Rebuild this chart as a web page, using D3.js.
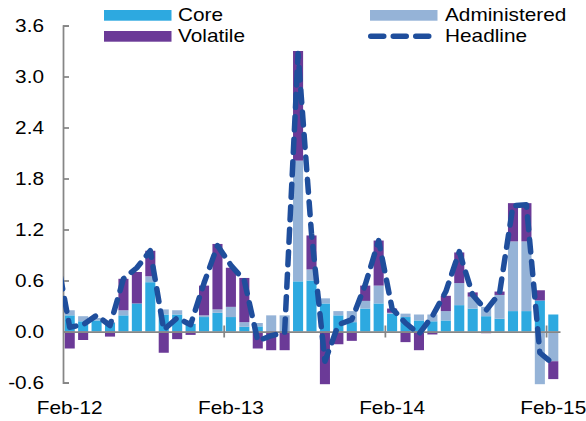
<!DOCTYPE html>
<html><head><meta charset="utf-8">
<script src="https://cdn.jsdelivr.net/npm/d3@7"></script>
<style>
body{margin:0;background:#fff}
svg{display:block}
text{font-family:"Liberation Sans",Arial,sans-serif;fill:#000}
</style>
</head><body>
<svg id="c" width="586" height="421"></svg>
<script>
const months = ["Feb-12","Mar-12","Apr-12","May-12","Jun-12","Jul-12","Aug-12","Sep-12","Oct-12","Nov-12","Dec-12","Jan-13",
  "Feb-13","Mar-13","Apr-13","May-13","Jun-13","Jul-13","Aug-13","Sep-13","Oct-13","Nov-13","Dec-13","Jan-14",
  "Feb-14","Mar-14","Apr-14","May-14","Jun-14","Jul-14","Aug-14","Sep-14","Oct-14","Nov-14","Dec-14","Jan-15","Feb-15"];
const core = [0.19,0.12,0.13,0.10,0.19,0.33,0.58,0.20,0.20,0.09,0.17,0.22,0.17,0.055,0.06,0,0,0.59,0.60,0.33,0.19,0.11,0.27,0.33,0.21,0.17,0.13,0.12,0.13,0.31,0.27,0.18,0.15,0.24,0.24,0.365,0.20];
const administered = [0.06,0.06,0.03,0.01,0.06,0,0.07,0.06,0.05,0,0.02,0.04,0.12,0.055,0.04,0.19,0.19,1.42,0.13,0.06,0.05,0.13,0.09,0.21,0.01,0.04,0.07,0.08,0.11,0.26,0.14,0.11,0.28,0.82,0.82,-0.62,-0.35];
const volatile = [-0.2,-0.1,0,-0.06,0.37,0.37,0.30,-0.25,-0.09,-0.04,0.35,0.77,0.46,0.52,-0.2,-0.22,-0.22,1.29,0.40,-0.62,-0.15,-0.11,0.18,0.53,0.05,-0.125,-0.22,-0.035,0.18,0.36,0.05,-0.02,0.04,0.45,0.45,0.12,-0.21];
const headline = [0.05,0.08,0.19,0.07,0.62,0.75,0.95,0.02,0.16,0.08,0.57,1.01,0.78,0.60,-0.11,-0.05,-0.01,3.27,1.15,-0.35,0.08,0.14,0.55,1.07,0.27,0.10,-0.03,0.18,0.47,0.94,0.43,0.25,0.45,1.48,1.49,-0.25,-0.38];
const headlinePrev = 0.91; // Jan-12, just off the left edge of the plot
const yTicks = [-0.6,0,0.6,1.2,1.8,2.4,3.0,3.6];
const xTickLabels = ["Feb-12","Feb-13","Feb-14","Feb-15"];
const seriesKeys = ["Core","Administered","Volatile"];
const colors = {Core:"#2DA9E0",Administered:"#95B3D7",Volatile:"#6B3A97",Headline:"#1F4E9C"};

const svg = d3.select("#c");
const W = 586, H = 421;
const plot = {left:63, right:560, top:25.5, bottom:382.5};
const FS = 17.7, SX = 1.175;

const x = d3.scaleBand().domain(months).range([plot.left, plot.right]).paddingInner(0.25).paddingOuter(0.125);
const y = d3.scaleLinear().domain([-0.6, 3.6]).range([plot.bottom, plot.top]);
const bw = x.bandwidth();

const rows = months.map((m,i)=>({month:m, Core:core[i], Administered:administered[i], Volatile:volatile[i]}));
const layers = d3.stack().keys(seriesKeys).offset(d3.stackOffsetDiverging)(rows);

// bars
const gBars = svg.append("g");
layers.forEach(layer=>{
  gBars.append("g").attr("fill", colors[layer.key])
    .selectAll("rect").data(layer.filter(d=>d[1]!==d[0])).join("rect")
    .attr("x", d=>x(d.data.month))
    .attr("width", bw)
    .attr("y", d=>y(Math.max(d[0],d[1])))
    .attr("height", d=>Math.abs(y(d[0])-y(d[1])));
});

// x axis line at zero
const gx = svg.append("g").attr("transform",`translate(0,${y(0)})`)
  .call(d3.axisBottom(x).tickValues([]).tickSizeOuter(0));
gx.select(".domain").attr("stroke","#868686").attr("stroke-width",1.75);
// boundary ticks at each February
const boundary = m => x(m) - x.step()*x.paddingInner()/2;
gx.selectAll("line.bt").data(xTickLabels.slice(1)).join("line").attr("class","bt")
  .attr("x1", boundary).attr("x2", boundary).attr("y1",-6).attr("y2",6)
  .attr("stroke","#868686").attr("stroke-width",1.75);

// x labels at bottom
const gxl = svg.append("g").attr("transform",`translate(0,${plot.bottom})`)
  .call(d3.axisBottom(x).tickValues(xTickLabels).tickSize(0).tickPadding(19));
gxl.select(".domain").remove();
gxl.selectAll("text").attr("font-size",FS).attr("font-family",'"Liberation Sans",Arial,sans-serif').attr("fill","#000");

// y axis
const gy = svg.append("g").attr("transform",`translate(${plot.left},0)`)
  .call(d3.axisLeft(y).tickValues(yTicks).tickSizeInner(-6).tickSizeOuter(-6).tickPadding(19).tickFormat(d=>d.toFixed(1)));
gy.select(".domain").attr("stroke","#868686").attr("stroke-width",1.75);
gy.selectAll(".tick line").attr("stroke","#868686").attr("stroke-width",1.75);
gy.selectAll("text").attr("font-size",FS).attr("font-family",'"Liberation Sans",Arial,sans-serif').attr("fill","#000");

// headline line
svg.append("clipPath").attr("id","clip").append("rect")
  .attr("x",plot.left).attr("y",0).attr("width",W-plot.left).attr("height",H);
const pts = [{px:x(months[0])+bw/2-x.step(), v:headlinePrev}]
  .concat(months.map((m,i)=>({px:x(m)+bw/2, v:headline[i]})));
svg.append("path").attr("clip-path","url(#clip)")
  .attr("d", d3.line().x(d=>d.px).y(d=>y(d.v))(pts))
  .attr("fill","none").attr("stroke",colors.Headline).attr("stroke-width",5.5)
  .attr("stroke-dasharray","13 9.5").attr("stroke-linecap","round").attr("stroke-linejoin","round");

// legend
const lg = svg.append("g");
const legendItems = [
  {key:"Core", sx:104, tx:178, cy:15.3, type:"rect"},
  {key:"Volatile", sx:104, tx:178, cy:36.3, type:"rect"},
  {key:"Administered", sx:370, tx:445, cy:15.3, type:"rect"},
  {key:"Headline", sx:370, tx:445, cy:36.3, type:"line"}
];
legendItems.forEach(it=>{
  if(it.type==="rect"){
    lg.append("rect").attr("x",it.sx).attr("y",it.cy-5.3).attr("width",67.5).attr("height",10.7).attr("fill",colors[it.key]);
  } else {
    lg.append("line").attr("x1",it.sx+0.75).attr("x2",it.sx+66.25).attr("y1",it.cy).attr("y2",it.cy)
      .attr("stroke",colors.Headline).attr("stroke-width",5.5).attr("stroke-dasharray","13 9.5").attr("stroke-linecap","round");
  }
  lg.append("text").attr("x",it.tx).attr("y",it.cy).attr("dy","0.35em").attr("font-size",FS).text(it.key);
});

// horizontally widen text to match the reference's lettering
svg.selectAll("text").each(function(){
  const L = this.getComputedTextLength();
  this.setAttribute("textLength", (L*SX).toFixed(2));
  this.setAttribute("lengthAdjust","spacingAndGlyphs");
});
</script>
</body></html>
